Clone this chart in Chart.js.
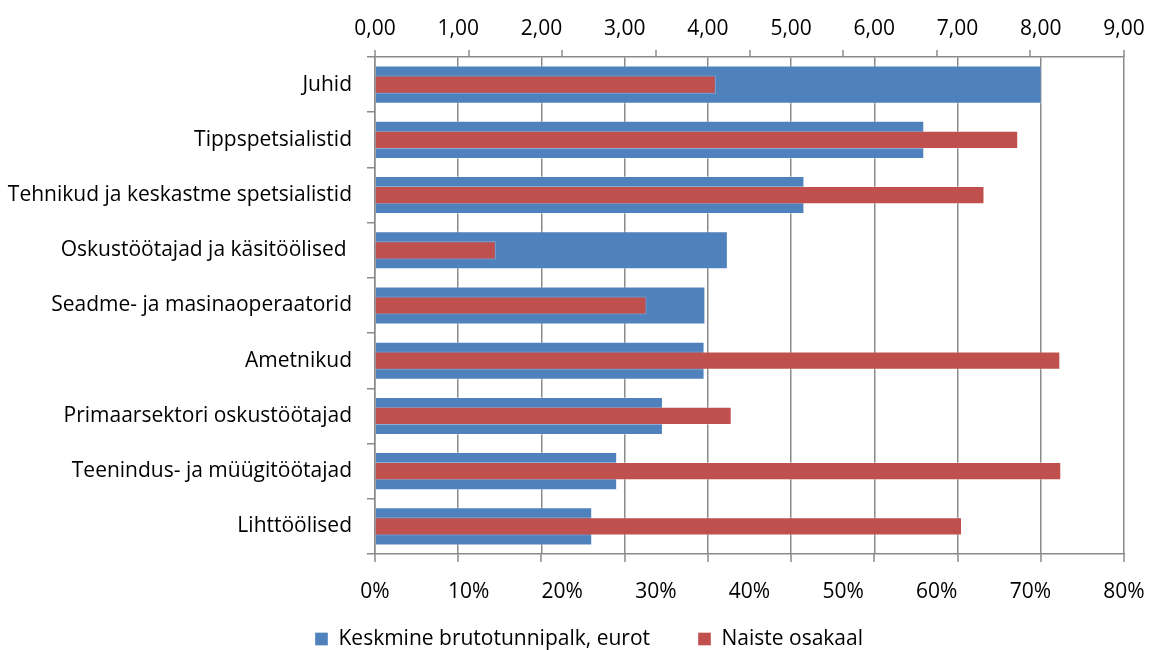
<!DOCTYPE html>
<html>
<head>
<meta charset="utf-8">
<script src="https://cdn.jsdelivr.net/npm/chart.js@4"></script>
<style>
  body { margin: 0; background: #fff; }
  #wrap { width: 1149px; height: 650px; }
</style>
</head>
<body>
<div id="wrap"><canvas id="barChart"></canvas></div>
<script>
  const categories = [
    'Juhid',
    'Tippspetsialistid',
    'Tehnikud ja keskastme spetsialistid',
    'Oskustöötajad ja käsitöölised ',
    'Seadme- ja masinaoperaatorid',
    'Ametnikud',
    'Primaarsektori oskustöötajad',
    'Teenindus- ja müügitöötajad',
    'Lihttöölised'
  ];
  // average gross hourly wage, euros (top axis)
  const hourlyWage = [8.01, 6.60, 5.16, 4.24, 3.97, 3.96, 3.46, 2.91, 2.61];
  // share of women, % (bottom axis)
  const womenShare = [36.4, 68.7, 65.1, 12.9, 29.0, 73.2, 38.1, 73.3, 62.7];

  const gridColor = '#8a8a8a';
  const fontFamily = '"Open Sans", "Liberation Sans", sans-serif';

  // tick marks on the outer side of the two value axes
  const outerTicks = {
    id: 'outerTicks',
    afterDraw(chart) {
      const { ctx, chartArea, scales } = chart;
      ctx.save();
      ctx.strokeStyle = gridColor;
      ctx.lineWidth = 1.5;
      ctx.beginPath();
      scales.x.ticks.forEach(t => {
        const px = Math.round(scales.x.getPixelForValue(t.value));
        ctx.moveTo(px, chartArea.top - 7);
        ctx.lineTo(px, chartArea.top);
      });
      scales.x2.ticks.forEach(t => {
        const px = Math.round(scales.x2.getPixelForValue(t.value));
        ctx.moveTo(px, chartArea.bottom);
        ctx.lineTo(px, chartArea.bottom + 8);
      });
      ctx.stroke();
      ctx.restore();
    }
  };

  // nudge the legend a bit right and up from where the layout puts it
  const legendShift = {
    id: 'legendShift',
    afterLayout(chart) {
      const lg = chart.legend;
      lg.left += 27;
      lg.right += 27;
      lg.top -= 23.5;
      lg.bottom = chart.height;
    }
  };

  // fixed axis sizes, no extra room for overhanging end labels
  const fixHeight = h => s => {
    s.height = h;
    s.paddingLeft = 0;
    s.paddingRight = 0;
  };

  Chart.defaults.font.family = fontFamily;
  Chart.defaults.font.size = 21;
  Chart.defaults.color = '#000';

  new Chart(document.getElementById('barChart'), {
    type: 'bar',
    data: {
      labels: categories,
      datasets: [
        {
          label: 'Keskmine brutotunnipalk, eurot',
          data: hourlyWage,
          xAxisID: 'x2',
          backgroundColor: '#4f81bd',
          borderColor: 'rgba(255,255,255,0.35)',
          borderWidth: 1,
          grouped: false,
          order: 2,
          categoryPercentage: 1,
          barPercentage: 0.69
        },
        {
          label: 'Naiste osakaal',
          data: womenShare,
          xAxisID: 'x',
          backgroundColor: '#c0504d',
          borderColor: 'rgba(255,255,255,0.35)',
          borderWidth: 1,
          grouped: false,
          order: 1,
          categoryPercentage: 1,
          barPercentage: 0.33
        }
      ]
    },
    options: {
      indexAxis: 'y',
      responsive: true,
      maintainAspectRatio: false,
      animation: false,
      layout: { padding: { left: 0, right: 25, top: 0, bottom: 0 } },
      plugins: {
        tooltip: { enabled: false },
        legend: {
          position: 'bottom',
          maxHeight: 46,
          labels: {
            boxWidth: 13,
            boxHeight: 13,
            padding: 48,
            font: { size: 21 },
            sort: (a, b) => a.datasetIndex - b.datasetIndex
          }
        }
      },
      scales: {
        y: {
          type: 'category',
          afterFit: s => { s.width = 375; },
          grid: {
            offset: true,
            drawOnChartArea: false,
            tickLength: 8,
            color: gridColor,
            lineWidth: 1.5
          },
          border: { color: gridColor, width: 1.5 },
          ticks: { padding: 15 }
        },
        x2: {
          position: 'top',
          min: 0,
          max: 9,
          afterFit: fixHeight(57),
          grid: { color: gridColor, lineWidth: 1.5, drawTicks: false },
          border: { color: gridColor, width: 1.5 },
          ticks: {
            stepSize: 1,
            padding: 15,
            maxRotation: 0,
            autoSkip: false,
            callback: v => v.toFixed(2).replace('.', ',')
          }
        },
        x: {
          position: 'bottom',
          min: 0,
          max: 80,
          afterFit: fixHeight(50),
          grid: { drawOnChartArea: false, drawTicks: false },
          border: { color: gridColor, width: 1.5 },
          ticks: {
            stepSize: 10,
            padding: 25,
            maxRotation: 0,
            autoSkip: false,
            callback: v => v + '%'
          }
        }
      }
    },
    plugins: [outerTicks, legendShift]
  });
</script>
</body>
</html>
